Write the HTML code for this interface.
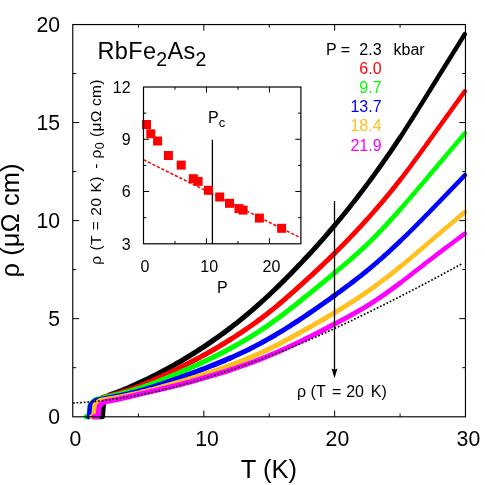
<!DOCTYPE html>
<html><head><meta charset="utf-8"><title>RbFe2As2 resistivity</title>
<style>
html,body{margin:0;padding:0;background:#fff;}
body{width:485px;height:485px;overflow:hidden;position:relative;font-family:"Liberation Sans",sans-serif;}
svg text{font-family:"Liberation Sans",sans-serif;}
</style></head><body>
<div id="fig" style="position:absolute;left:0;top:0;width:485px;height:485px;will-change:transform;background:#fff">
<svg width="485" height="485" viewBox="0 0 485 485" style="position:absolute;left:0;top:0">
<rect width="485" height="485" fill="#fff"/>
<g fill="none" stroke="#000000" stroke-linejoin="round" stroke-linecap="round">
<path d="M97.86,416.70 L102.37,416.70 L103.55,402.17 L103.89,401.61 L104.22,401.07 L104.56,400.54 L104.89,400.04 L105.23,399.55 L105.56,399.08 L105.90,398.63 L106.23,398.21 L106.57,397.80 L106.90,397.41 L107.24,397.04 L107.58,396.70 L107.91,396.38 L108.25,396.08 L108.58,395.80 L108.92,395.54 L109.25,395.31 L109.59,395.10 L109.92,394.91 L110.26,394.75 L110.59,394.62 L110.93,394.50 L111.27,394.39 L111.60,394.27 L111.94,394.16 L112.27,394.04 L112.61,393.93 L112.94,393.81 L113.28,393.69 L113.61,393.57 L113.95,393.45 L114.28,393.34 L114.62,393.21 L114.96,393.09 L115.29,392.97 L115.63,392.85 L115.96,392.73 L116.30,392.60 L116.63,392.48 L118.28,391.86 L119.92,391.23 L121.56,390.58 L123.20,389.92 L124.85,389.25 L126.49,388.56 L128.13,387.87 L129.78,387.16 L131.42,386.44 L133.06,385.71 L134.71,384.98 L136.35,384.23 L137.99,383.48 L139.63,382.72 L141.28,381.95 L142.92,381.17 L144.56,380.39 L146.21,379.60 L147.85,378.81 L149.49,378.00 L151.14,377.19 L152.78,376.37 L154.42,375.54 L156.06,374.71 L157.71,373.86 L159.35,373.01 L160.99,372.15 L162.64,371.29 L164.28,370.41 L165.92,369.53 L167.57,368.63 L169.21,367.73 L170.85,366.82 L172.49,365.91 L174.14,364.98 L175.78,364.04 L177.42,363.10 L179.07,362.15 L180.71,361.19 L182.35,360.22 L184.00,359.24 L185.64,358.25 L187.28,357.25 L188.92,356.25 L190.57,355.23 L192.21,354.21 L193.85,353.18 L195.50,352.14 L197.14,351.09 L198.78,350.03 L200.43,348.96 L202.07,347.89 L203.71,346.80 L205.35,345.71 L207.00,344.61 L208.64,343.50 L210.28,342.38 L211.93,341.24 L213.57,340.10 L215.21,338.95 L216.86,337.79 L218.50,336.62 L220.14,335.44 L221.78,334.25 L223.43,333.05 L225.07,331.84 L226.71,330.61 L228.36,329.38 L230.00,328.13" stroke-width="5.2"/>
<path d="M230.00,328.13 L232.14,326.49 L234.27,324.84 L236.41,323.16 L238.54,321.46 L240.68,319.74 L242.82,318.00 L244.95,316.24 L247.09,314.46 L249.22,312.66 L251.36,310.84 L253.50,308.99 L255.63,307.13 L257.77,305.25 L259.90,303.35 L262.04,301.43 L264.18,299.48 L266.31,297.52 L268.45,295.54 L270.59,293.54 L272.72,291.52 L274.86,289.47 L276.99,287.41 L279.13,285.34 L281.27,283.24 L283.40,281.13 L285.54,278.99 L287.67,276.84 L289.81,274.68 L291.95,272.50 L294.08,270.30 L296.22,268.08 L298.35,265.85 L300.49,263.61 L302.63,261.35 L304.76,259.07 L306.90,256.78 L309.03,254.48 L311.17,252.16 L313.31,249.82 L315.44,247.46 L317.58,245.09 L319.71,242.70 L321.85,240.29 L323.99,237.86 L326.12,235.42 L328.26,232.95 L330.39,230.46 L332.53,227.95 L334.67,225.42" stroke-width="5.0"/>
<path d="M334.67,225.42 L336.00,223.83 L337.34,222.23 L338.67,220.62 L340.01,219.01 L341.34,217.38 L342.68,215.75 L344.01,214.10 L345.35,212.45 L346.68,210.80 L348.02,209.13 L349.35,207.45 L350.69,205.77 L352.02,204.08 L353.36,202.38 L354.69,200.67 L356.03,198.95 L357.36,197.22 L358.70,195.49 L360.03,193.75 L361.37,192.00 L362.70,190.24 L364.04,188.47 L365.37,186.70 L366.71,184.92 L368.04,183.13 L369.38,181.33 L370.71,179.52 L372.05,177.71 L373.38,175.88 L374.72,174.05 L376.05,172.21 L377.39,170.36 L378.72,168.50 L380.06,166.63 L381.39,164.75 L382.73,162.86 L384.06,160.97 L385.40,159.06 L386.73,157.15 L388.07,155.22 L389.40,153.28 L390.74,151.34 L392.07,149.38 L393.41,147.42 L394.74,145.44 L396.08,143.45 L397.41,141.45 L398.75,139.45 L400.08,137.43" stroke-width="4.8"/>
<path d="M400.08,137.43 L401.41,135.42 L402.73,133.40 L404.05,131.37 L405.37,129.33 L406.69,127.28 L408.01,125.22 L409.34,123.15 L410.66,121.08 L411.98,119.00 L413.30,116.92 L414.62,114.82 L415.94,112.72 L417.27,110.62 L418.59,108.51 L419.91,106.40 L421.23,104.28 L422.55,102.17 L423.87,100.04 L425.20,97.92 L426.52,95.79 L427.84,93.66 L429.16,91.53 L430.48,89.40 L431.80,87.27 L433.13,85.14 L434.45,83.01 L435.77,80.89 L437.09,78.76 L438.41,76.63 L439.73,74.51 L441.06,72.38 L442.38,70.25 L443.70,68.13 L445.02,66.00 L446.34,63.88 L447.66,61.76 L448.99,59.63 L450.31,57.51 L451.63,55.39 L452.95,53.27 L454.27,51.15 L455.59,49.02 L456.92,46.90 L458.24,44.78 L459.56,42.66 L460.88,40.54 L462.20,38.42 L463.52,36.30 L464.85,34.18" stroke-width="4.5"/>
</g>
<g fill="none" stroke="#ff0000" stroke-linejoin="round" stroke-linecap="round">
<path d="M93.28,416.70 L95.63,416.70 L96.81,403.50 L97.15,403.01 L97.48,402.53 L97.82,402.06 L98.15,401.62 L98.49,401.19 L98.82,400.78 L99.16,400.39 L99.50,400.02 L99.83,399.67 L100.17,399.34 L100.50,399.03 L100.84,398.73 L101.17,398.46 L101.51,398.21 L101.84,397.98 L102.18,397.77 L102.51,397.58 L102.85,397.41 L103.19,397.27 L103.52,397.15 L103.86,397.05 L104.19,396.96 L104.53,396.88 L104.86,396.80 L105.20,396.72 L105.53,396.64 L105.87,396.56 L106.20,396.48 L106.54,396.40 L106.88,396.31 L107.21,396.23 L107.55,396.15 L107.88,396.06 L108.22,395.98 L108.55,395.89 L108.89,395.81 L109.22,395.72 L109.56,395.64 L109.90,395.55 L111.64,395.09 L113.38,394.63 L115.12,394.15 L116.86,393.65 L118.60,393.15 L120.34,392.63 L122.08,392.10 L123.82,391.56 L125.56,391.00 L127.30,390.43 L129.04,389.85 L130.78,389.26 L132.52,388.64 L134.26,388.02 L136.00,387.38 L137.75,386.73 L139.49,386.06 L141.23,385.38 L142.97,384.68 L144.71,383.97 L146.45,383.25 L148.19,382.52 L149.93,381.78 L151.67,381.02 L153.41,380.25 L155.15,379.48 L156.89,378.69 L158.63,377.90 L160.37,377.09 L162.11,376.28 L163.86,375.47 L165.60,374.64 L167.34,373.81 L169.08,372.98 L170.82,372.14 L172.56,371.30 L174.30,370.45 L176.04,369.59 L177.78,368.74 L179.52,367.87 L181.26,367.00 L183.00,366.13 L184.74,365.25 L186.48,364.36 L188.22,363.47 L189.97,362.57 L191.71,361.67 L193.45,360.76 L195.19,359.84 L196.93,358.91 L198.67,357.98 L200.41,357.03 L202.15,356.08 L203.89,355.13 L205.63,354.16 L207.37,353.18 L209.11,352.20 L210.85,351.21 L212.59,350.21 L214.33,349.20 L216.07,348.18 L217.82,347.15 L219.56,346.11 L221.30,345.07 L223.04,344.01 L224.78,342.95 L226.52,341.87 L228.26,340.79 L230.00,339.70" stroke-width="5.2"/>
<path d="M230.00,339.70 L232.14,338.35 L234.27,336.98 L236.41,335.60 L238.54,334.20 L240.68,332.79 L242.82,331.37 L244.95,329.92 L247.09,328.46 L249.22,326.98 L251.36,325.49 L253.50,323.97 L255.63,322.43 L257.77,320.88 L259.90,319.30 L262.04,317.70 L264.18,316.08 L266.31,314.43 L268.45,312.76 L270.59,311.06 L272.72,309.34 L274.86,307.60 L276.99,305.83 L279.13,304.04 L281.27,302.24 L283.40,300.41 L285.54,298.57 L287.67,296.71 L289.81,294.84 L291.95,292.95 L294.08,291.05 L296.22,289.14 L298.35,287.22 L300.49,285.30 L302.63,283.36 L304.76,281.42 L306.90,279.47 L309.03,277.51 L311.17,275.54 L313.31,273.57 L315.44,271.58 L317.58,269.59 L319.71,267.58 L321.85,265.57 L323.99,263.54 L326.12,261.50 L328.26,259.44 L330.39,257.37 L332.53,255.29 L334.67,253.19" stroke-width="5.0"/>
<path d="M334.67,253.19 L336.00,251.87 L337.34,250.55 L338.67,249.22 L340.01,247.88 L341.34,246.54 L342.68,245.19 L344.01,243.83 L345.35,242.47 L346.68,241.10 L348.02,239.72 L349.35,238.34 L350.69,236.95 L352.02,235.55 L353.36,234.15 L354.69,232.74 L356.03,231.32 L357.36,229.89 L358.70,228.46 L360.03,227.02 L361.37,225.57 L362.70,224.12 L364.04,222.66 L365.37,221.19 L366.71,219.71 L368.04,218.23 L369.38,216.73 L370.71,215.23 L372.05,213.73 L373.38,212.21 L374.72,210.68 L376.05,209.15 L377.39,207.61 L378.72,206.06 L380.06,204.50 L381.39,202.93 L382.73,201.35 L384.06,199.76 L385.40,198.16 L386.73,196.56 L388.07,194.94 L389.40,193.32 L390.74,191.68 L392.07,190.03 L393.41,188.38 L394.74,186.71 L396.08,185.03 L397.41,183.35 L398.75,181.65 L400.08,179.94" stroke-width="4.8"/>
<path d="M400.08,179.94 L401.41,178.24 L402.73,176.52 L404.05,174.80 L405.37,173.07 L406.69,171.32 L408.01,169.57 L409.34,167.81 L410.66,166.05 L411.98,164.27 L413.30,162.49 L414.62,160.71 L415.94,158.91 L417.27,157.12 L418.59,155.31 L419.91,153.50 L421.23,151.69 L422.55,149.87 L423.87,148.05 L425.20,146.23 L426.52,144.41 L427.84,142.58 L429.16,140.75 L430.48,138.92 L431.80,137.09 L433.13,135.26 L434.45,133.42 L435.77,131.59 L437.09,129.76 L438.41,127.93 L439.73,126.10 L441.06,124.27 L442.38,122.43 L443.70,120.60 L445.02,118.77 L446.34,116.94 L447.66,115.11 L448.99,113.28 L450.31,111.44 L451.63,109.61 L452.95,107.78 L454.27,105.95 L455.59,104.12 L456.92,102.29 L458.24,100.45 L459.56,98.62 L460.88,96.79 L462.20,94.96 L463.52,93.13 L464.85,91.30" stroke-width="4.5"/>
</g>
<g fill="none" stroke="#00ff00" stroke-linejoin="round" stroke-linecap="round">
<path d="M86.48,416.70 L88.96,416.70 L90.14,405.00 L90.47,404.55 L90.81,404.12 L91.15,403.71 L91.48,403.31 L91.82,402.92 L92.15,402.56 L92.49,402.21 L92.82,401.87 L93.16,401.56 L93.49,401.26 L93.83,400.98 L94.16,400.72 L94.50,400.47 L94.84,400.25 L95.17,400.04 L95.51,399.85 L95.84,399.68 L96.18,399.53 L96.51,399.40 L96.85,399.29 L97.18,399.20 L97.52,399.12 L97.85,399.05 L98.19,398.98 L98.53,398.91 L98.86,398.83 L99.20,398.76 L99.53,398.69 L99.87,398.62 L100.20,398.54 L100.54,398.47 L100.87,398.40 L101.21,398.32 L101.55,398.25 L101.88,398.18 L102.22,398.10 L102.55,398.03 L102.89,397.95 L103.22,397.88 L105.06,397.47 L106.90,397.06 L108.73,396.64 L110.57,396.21 L112.41,395.78 L114.25,395.34 L116.08,394.89 L117.92,394.43 L119.76,393.97 L121.60,393.49 L123.43,393.01 L125.27,392.51 L127.11,392.00 L128.95,391.49 L130.78,390.95 L132.62,390.41 L134.46,389.86 L136.29,389.29 L138.13,388.70 L139.97,388.10 L141.81,387.49 L143.64,386.86 L145.48,386.22 L147.32,385.57 L149.16,384.91 L150.99,384.23 L152.83,383.54 L154.67,382.84 L156.51,382.14 L158.34,381.42 L160.18,380.69 L162.02,379.96 L163.86,379.22 L165.69,378.47 L167.53,377.72 L169.37,376.96 L171.20,376.19 L173.04,375.42 L174.88,374.65 L176.72,373.87 L178.55,373.08 L180.39,372.29 L182.23,371.50 L184.07,370.70 L185.90,369.89 L187.74,369.08 L189.58,368.26 L191.42,367.44 L193.25,366.61 L195.09,365.78 L196.93,364.94 L198.76,364.09 L200.60,363.24 L202.44,362.38 L204.28,361.51 L206.11,360.64 L207.95,359.76 L209.79,358.87 L211.63,357.98 L213.46,357.08 L215.30,356.17 L217.14,355.25 L218.98,354.33 L220.81,353.39 L222.65,352.45 L224.49,351.49 L226.33,350.53 L228.16,349.56 L230.00,348.57" stroke-width="5.2"/>
<path d="M230.00,348.57 L232.14,347.41 L234.27,346.24 L236.41,345.06 L238.54,343.85 L240.68,342.64 L242.82,341.40 L244.95,340.15 L247.09,338.88 L249.22,337.59 L251.36,336.29 L253.50,334.96 L255.63,333.61 L257.77,332.25 L259.90,330.86 L262.04,329.45 L264.18,328.02 L266.31,326.57 L268.45,325.10 L270.59,323.60 L272.72,322.08 L274.86,320.53 L276.99,318.97 L279.13,317.39 L281.27,315.79 L283.40,314.17 L285.54,312.53 L287.67,310.89 L289.81,309.22 L291.95,307.55 L294.08,305.86 L296.22,304.17 L298.35,302.47 L300.49,300.76 L302.63,299.04 L304.76,297.32 L306.90,295.59 L309.03,293.85 L311.17,292.12 L313.31,290.38 L315.44,288.63 L317.58,286.88 L319.71,285.13 L321.85,283.37 L323.99,281.61 L326.12,279.85 L328.26,278.09 L330.39,276.32 L332.53,274.56 L334.67,272.79" stroke-width="5.0"/>
<path d="M334.67,272.79 L336.00,271.68 L337.34,270.58 L338.67,269.47 L340.01,268.36 L341.34,267.24 L342.68,266.13 L344.01,265.01 L345.35,263.88 L346.68,262.75 L348.02,261.62 L349.35,260.48 L350.69,259.33 L352.02,258.18 L353.36,257.01 L354.69,255.84 L356.03,254.67 L357.36,253.48 L358.70,252.28 L360.03,251.07 L361.37,249.85 L362.70,248.62 L364.04,247.38 L365.37,246.13 L366.71,244.86 L368.04,243.58 L369.38,242.28 L370.71,240.97 L372.05,239.65 L373.38,238.31 L374.72,236.97 L376.05,235.61 L377.39,234.24 L378.72,232.86 L380.06,231.46 L381.39,230.06 L382.73,228.65 L384.06,227.22 L385.40,225.79 L386.73,224.35 L388.07,222.90 L389.40,221.44 L390.74,219.97 L392.07,218.50 L393.41,217.01 L394.74,215.52 L396.08,214.03 L397.41,212.52 L398.75,211.01 L400.08,209.50" stroke-width="4.8"/>
<path d="M400.08,209.50 L401.41,208.00 L402.73,206.49 L404.05,204.97 L405.37,203.45 L406.69,201.93 L408.01,200.40 L409.34,198.87 L410.66,197.34 L411.98,195.80 L413.30,194.26 L414.62,192.71 L415.94,191.16 L417.27,189.61 L418.59,188.06 L419.91,186.51 L421.23,184.95 L422.55,183.39 L423.87,181.83 L425.20,180.27 L426.52,178.71 L427.84,177.14 L429.16,175.58 L430.48,174.01 L431.80,172.45 L433.13,170.88 L434.45,169.32 L435.77,167.75 L437.09,166.19 L438.41,164.62 L439.73,163.06 L441.06,161.49 L442.38,159.93 L443.70,158.36 L445.02,156.80 L446.34,155.23 L447.66,153.67 L448.99,152.10 L450.31,150.54 L451.63,148.97 L452.95,147.41 L454.27,145.84 L455.59,144.28 L456.92,142.71 L458.24,141.15 L459.56,139.58 L460.88,138.02 L462.20,136.45 L463.52,134.89 L464.85,133.33" stroke-width="4.5"/>
</g>
<g fill="none" stroke="#0000ff" stroke-linejoin="round" stroke-linecap="round">
<path d="M88.96,416.70 L89.35,416.70 L90.53,405.43 L90.87,405.01 L91.20,404.60 L91.54,404.21 L91.87,403.83 L92.21,403.47 L92.54,403.12 L92.88,402.79 L93.22,402.48 L93.55,402.18 L93.89,401.90 L94.22,401.64 L94.56,401.40 L94.89,401.17 L95.23,400.96 L95.56,400.77 L95.90,400.59 L96.23,400.44 L96.57,400.30 L96.91,400.19 L97.24,400.09 L97.58,400.01 L97.91,399.94 L98.25,399.88 L98.58,399.82 L98.92,399.76 L99.25,399.70 L99.59,399.64 L99.92,399.58 L100.26,399.52 L100.60,399.45 L100.93,399.39 L101.27,399.33 L101.60,399.27 L101.94,399.21 L102.27,399.14 L102.61,399.08 L102.94,399.02 L103.28,398.96 L103.61,398.89 L105.45,398.55 L107.28,398.20 L109.11,397.85 L110.94,397.50 L112.77,397.14 L114.60,396.77 L116.44,396.40 L118.27,396.02 L120.10,395.63 L121.93,395.24 L123.76,394.83 L125.59,394.42 L127.43,394.00 L129.26,393.57 L131.09,393.13 L132.92,392.67 L134.75,392.21 L136.59,391.73 L138.42,391.24 L140.25,390.73 L142.08,390.22 L143.91,389.69 L145.74,389.15 L147.57,388.59 L149.41,388.03 L151.24,387.46 L153.07,386.88 L154.90,386.29 L156.73,385.69 L158.56,385.08 L160.40,384.47 L162.23,383.85 L164.06,383.23 L165.89,382.60 L167.72,381.96 L169.56,381.32 L171.39,380.68 L173.22,380.04 L175.05,379.39 L176.88,378.74 L178.71,378.08 L180.55,377.43 L182.38,376.77 L184.21,376.10 L186.04,375.44 L187.87,374.77 L189.70,374.10 L191.54,373.42 L193.37,372.74 L195.20,372.05 L197.03,371.37 L198.86,370.67 L200.69,369.98 L202.53,369.28 L204.36,368.58 L206.19,367.87 L208.02,367.16 L209.85,366.44 L211.68,365.71 L213.51,364.99 L215.35,364.25 L217.18,363.51 L219.01,362.76 L220.84,362.01 L222.67,361.25 L224.50,360.48 L226.34,359.70 L228.17,358.91 L230.00,358.12" stroke-width="5.2"/>
<path d="M230.00,358.12 L232.14,357.18 L234.27,356.22 L236.41,355.26 L238.54,354.27 L240.68,353.28 L242.82,352.27 L244.95,351.24 L247.09,350.20 L249.22,349.15 L251.36,348.07 L253.50,346.99 L255.63,345.88 L257.77,344.77 L259.90,343.63 L262.04,342.48 L264.18,341.31 L266.31,340.13 L268.45,338.93 L270.59,337.71 L272.72,336.48 L274.86,335.23 L276.99,333.96 L279.13,332.68 L281.27,331.39 L283.40,330.08 L285.54,328.75 L287.67,327.41 L289.81,326.06 L291.95,324.70 L294.08,323.32 L296.22,321.94 L298.35,320.54 L300.49,319.13 L302.63,317.71 L304.76,316.28 L306.90,314.84 L309.03,313.39 L311.17,311.93 L313.31,310.46 L315.44,308.99 L317.58,307.50 L319.71,306.01 L321.85,304.51 L323.99,303.00 L326.12,301.48 L328.26,299.96 L330.39,298.43 L332.53,296.90 L334.67,295.36" stroke-width="5.0"/>
<path d="M334.67,295.36 L336.00,294.39 L337.34,293.42 L338.67,292.45 L340.01,291.47 L341.34,290.49 L342.68,289.51 L344.01,288.53 L345.35,287.54 L346.68,286.54 L348.02,285.55 L349.35,284.54 L350.69,283.53 L352.02,282.52 L353.36,281.50 L354.69,280.48 L356.03,279.45 L357.36,278.41 L358.70,277.37 L360.03,276.32 L361.37,275.26 L362.70,274.20 L364.04,273.12 L365.37,272.04 L366.71,270.96 L368.04,269.86 L369.38,268.76 L370.71,267.65 L372.05,266.53 L373.38,265.40 L374.72,264.26 L376.05,263.12 L377.39,261.97 L378.72,260.81 L380.06,259.64 L381.39,258.47 L382.73,257.28 L384.06,256.09 L385.40,254.90 L386.73,253.69 L388.07,252.48 L389.40,251.26 L390.74,250.04 L392.07,248.80 L393.41,247.56 L394.74,246.31 L396.08,245.06 L397.41,243.80 L398.75,242.53 L400.08,241.26" stroke-width="4.8"/>
<path d="M400.08,241.26 L401.41,239.99 L402.73,238.71 L404.05,237.43 L405.37,236.15 L406.69,234.86 L408.01,233.56 L409.34,232.26 L410.66,230.95 L411.98,229.64 L413.30,228.32 L414.62,227.00 L415.94,225.67 L417.27,224.34 L418.59,223.01 L419.91,221.67 L421.23,220.33 L422.55,218.99 L423.87,217.64 L425.20,216.29 L426.52,214.94 L427.84,213.59 L429.16,212.23 L430.48,210.87 L431.80,209.51 L433.13,208.15 L434.45,206.79 L435.77,205.43 L437.09,204.06 L438.41,202.69 L439.73,201.33 L441.06,199.96 L442.38,198.59 L443.70,197.22 L445.02,195.85 L446.34,194.47 L447.66,193.10 L448.99,191.73 L450.31,190.35 L451.63,188.98 L452.95,187.60 L454.27,186.22 L455.59,184.85 L456.92,183.47 L458.24,182.09 L459.56,180.71 L460.88,179.33 L462.20,177.96 L463.52,176.58 L464.85,175.20" stroke-width="4.5"/>
</g>
<g fill="none" stroke="#ffc020" stroke-linejoin="round" stroke-linecap="round">
<path d="M91.84,416.70 L93.74,416.70 L94.91,405.26 L95.25,404.84 L95.59,404.44 L95.92,404.05 L96.26,403.69 L96.59,403.34 L96.93,403.00 L97.26,402.68 L97.60,402.38 L97.93,402.10 L98.27,401.83 L98.60,401.59 L98.94,401.36 L99.28,401.14 L99.61,400.95 L99.95,400.77 L100.28,400.61 L100.62,400.47 L100.95,400.35 L101.29,400.24 L101.62,400.16 L101.96,400.09 L102.29,400.04 L102.63,400.00 L102.97,399.95 L103.30,399.90 L103.64,399.85 L103.97,399.80 L104.31,399.75 L104.64,399.70 L104.98,399.65 L105.31,399.60 L105.65,399.55 L105.99,399.50 L106.32,399.45 L106.66,399.40 L106.99,399.34 L107.33,399.29 L107.66,399.24 L108.00,399.18 L109.77,398.90 L111.53,398.60 L113.30,398.29 L115.07,397.98 L116.84,397.66 L118.61,397.32 L120.37,396.98 L122.14,396.64 L123.91,396.28 L125.68,395.91 L127.45,395.54 L129.22,395.16 L130.98,394.78 L132.75,394.39 L134.52,393.99 L136.29,393.58 L138.06,393.17 L139.82,392.75 L141.59,392.33 L143.36,391.90 L145.13,391.47 L146.90,391.03 L148.67,390.58 L150.43,390.13 L152.20,389.67 L153.97,389.21 L155.74,388.75 L157.51,388.28 L159.27,387.80 L161.04,387.32 L162.81,386.84 L164.58,386.35 L166.35,385.86 L168.11,385.36 L169.88,384.86 L171.65,384.36 L173.42,383.85 L175.19,383.34 L176.96,382.82 L178.72,382.30 L180.49,381.78 L182.26,381.26 L184.03,380.73 L185.80,380.19 L187.56,379.65 L189.33,379.11 L191.10,378.57 L192.87,378.02 L194.64,377.46 L196.41,376.90 L198.17,376.34 L199.94,375.78 L201.71,375.21 L203.48,374.63 L205.25,374.05 L207.01,373.47 L208.78,372.89 L210.55,372.29 L212.32,371.70 L214.09,371.10 L215.85,370.49 L217.62,369.88 L219.39,369.26 L221.16,368.64 L222.93,368.01 L224.70,367.38 L226.46,366.74 L228.23,366.10 L230.00,365.44" stroke-width="5.2"/>
<path d="M230.00,365.44 L232.14,364.65 L234.27,363.84 L236.41,363.02 L238.54,362.20 L240.68,361.36 L242.82,360.51 L244.95,359.65 L247.09,358.78 L249.22,357.89 L251.36,356.99 L253.50,356.08 L255.63,355.15 L257.77,354.21 L259.90,353.26 L262.04,352.28 L264.18,351.30 L266.31,350.29 L268.45,349.27 L270.59,348.23 L272.72,347.18 L274.86,346.10 L276.99,345.02 L279.13,343.92 L281.27,342.80 L283.40,341.68 L285.54,340.54 L287.67,339.39 L289.81,338.23 L291.95,337.07 L294.08,335.89 L296.22,334.72 L298.35,333.53 L300.49,332.34 L302.63,331.15 L304.76,329.95 L306.90,328.75 L309.03,327.55 L311.17,326.34 L313.31,325.12 L315.44,323.91 L317.58,322.68 L319.71,321.45 L321.85,320.22 L323.99,318.98 L326.12,317.73 L328.26,316.47 L330.39,315.21 L332.53,313.94 L334.67,312.66" stroke-width="5.0"/>
<path d="M334.67,312.66 L336.00,311.85 L337.34,311.04 L338.67,310.23 L340.01,309.41 L341.34,308.59 L342.68,307.77 L344.01,306.94 L345.35,306.11 L346.68,305.27 L348.02,304.43 L349.35,303.58 L350.69,302.73 L352.02,301.87 L353.36,301.01 L354.69,300.14 L356.03,299.27 L357.36,298.39 L358.70,297.50 L360.03,296.61 L361.37,295.71 L362.70,294.81 L364.04,293.90 L365.37,292.98 L366.71,292.06 L368.04,291.13 L369.38,290.19 L370.71,289.24 L372.05,288.29 L373.38,287.33 L374.72,286.37 L376.05,285.40 L377.39,284.42 L378.72,283.43 L380.06,282.44 L381.39,281.44 L382.73,280.44 L384.06,279.43 L385.40,278.41 L386.73,277.38 L388.07,276.35 L389.40,275.32 L390.74,274.27 L392.07,273.23 L393.41,272.17 L394.74,271.11 L396.08,270.04 L397.41,268.97 L398.75,267.89 L400.08,266.81" stroke-width="4.8"/>
<path d="M400.08,266.81 L401.41,265.73 L402.73,264.65 L404.05,263.56 L405.37,262.47 L406.69,261.37 L408.01,260.27 L409.34,259.16 L410.66,258.05 L411.98,256.94 L413.30,255.82 L414.62,254.70 L415.94,253.58 L417.27,252.46 L418.59,251.33 L419.91,250.20 L421.23,249.07 L422.55,247.94 L423.87,246.81 L425.20,245.68 L426.52,244.54 L427.84,243.41 L429.16,242.28 L430.48,241.14 L431.80,240.01 L433.13,238.88 L434.45,237.75 L435.77,236.62 L437.09,235.49 L438.41,234.37 L439.73,233.24 L441.06,232.12 L442.38,230.99 L443.70,229.87 L445.02,228.74 L446.34,227.62 L447.66,226.50 L448.99,225.38 L450.31,224.26 L451.63,223.14 L452.95,222.02 L454.27,220.90 L455.59,219.78 L456.92,218.66 L458.24,217.54 L459.56,216.43 L460.88,215.31 L462.20,214.19 L463.52,213.07 L464.85,211.96" stroke-width="4.5"/>
</g>
<g fill="none" stroke="#ff00ff" stroke-linejoin="round" stroke-linecap="round">
<path d="M94.19,416.70 L98.05,416.70 L99.23,406.19 L99.57,405.81 L99.90,405.44 L100.24,405.09 L100.57,404.75 L100.91,404.43 L101.24,404.13 L101.58,403.84 L101.92,403.56 L102.25,403.30 L102.59,403.06 L102.92,402.83 L103.26,402.62 L103.59,402.42 L103.93,402.24 L104.26,402.07 L104.60,401.92 L104.94,401.79 L105.27,401.67 L105.61,401.57 L105.94,401.49 L106.28,401.42 L106.61,401.37 L106.95,401.32 L107.28,401.26 L107.62,401.21 L107.95,401.16 L108.29,401.10 L108.63,401.05 L108.96,400.99 L109.30,400.94 L109.63,400.88 L109.97,400.82 L110.30,400.76 L110.64,400.70 L110.97,400.64 L111.31,400.58 L111.64,400.52 L111.98,400.46 L112.32,400.40 L114.02,400.07 L115.73,399.72 L117.43,399.37 L119.14,399.00 L120.84,398.62 L122.55,398.23 L124.25,397.83 L125.96,397.43 L127.67,397.02 L129.37,396.61 L131.08,396.19 L132.78,395.78 L134.49,395.36 L136.19,394.94 L137.90,394.53 L139.60,394.12 L141.31,393.72 L143.02,393.32 L144.72,392.92 L146.43,392.53 L148.13,392.13 L149.84,391.74 L151.54,391.35 L153.25,390.97 L154.95,390.58 L156.66,390.19 L158.37,389.80 L160.07,389.40 L161.78,389.01 L163.48,388.61 L165.19,388.22 L166.89,387.81 L168.60,387.41 L170.30,386.99 L172.01,386.58 L173.72,386.16 L175.42,385.73 L177.13,385.30 L178.83,384.86 L180.54,384.42 L182.24,383.97 L183.95,383.52 L185.66,383.07 L187.36,382.61 L189.07,382.15 L190.77,381.68 L192.48,381.21 L194.18,380.74 L195.89,380.26 L197.59,379.78 L199.30,379.30 L201.01,378.82 L202.71,378.33 L204.42,377.84 L206.12,377.34 L207.83,376.85 L209.53,376.35 L211.24,375.85 L212.94,375.34 L214.65,374.83 L216.36,374.32 L218.06,373.80 L219.77,373.28 L221.47,372.75 L223.18,372.22 L224.88,371.69 L226.59,371.15 L228.29,370.60 L230.00,370.05" stroke-width="5.2"/>
<path d="M230.00,370.05 L232.14,369.35 L234.27,368.64 L236.41,367.92 L238.54,367.19 L240.68,366.45 L242.82,365.71 L244.95,364.95 L247.09,364.18 L249.22,363.39 L251.36,362.60 L253.50,361.80 L255.63,360.99 L257.77,360.17 L259.90,359.33 L262.04,358.49 L264.18,357.63 L266.31,356.77 L268.45,355.89 L270.59,355.00 L272.72,354.10 L274.86,353.19 L276.99,352.27 L279.13,351.34 L281.27,350.40 L283.40,349.44 L285.54,348.48 L287.67,347.51 L289.81,346.52 L291.95,345.53 L294.08,344.52 L296.22,343.51 L298.35,342.49 L300.49,341.45 L302.63,340.41 L304.76,339.36 L306.90,338.29 L309.03,337.22 L311.17,336.15 L313.31,335.06 L315.44,333.97 L317.58,332.87 L319.71,331.77 L321.85,330.66 L323.99,329.55 L326.12,328.44 L328.26,327.32 L330.39,326.20 L332.53,325.07 L334.67,323.95" stroke-width="5.0"/>
<path d="M334.67,323.95 L336.00,323.25 L337.34,322.54 L338.67,321.84 L340.01,321.13 L341.34,320.43 L342.68,319.72 L344.01,319.01 L345.35,318.29 L346.68,317.57 L348.02,316.85 L349.35,316.12 L350.69,315.39 L352.02,314.66 L353.36,313.91 L354.69,313.17 L356.03,312.41 L357.36,311.65 L358.70,310.89 L360.03,310.11 L361.37,309.33 L362.70,308.54 L364.04,307.74 L365.37,306.93 L366.71,306.12 L368.04,305.29 L369.38,304.45 L370.71,303.61 L372.05,302.75 L373.38,301.89 L374.72,301.02 L376.05,300.13 L377.39,299.24 L378.72,298.34 L380.06,297.44 L381.39,296.52 L382.73,295.60 L384.06,294.67 L385.40,293.73 L386.73,292.78 L388.07,291.83 L389.40,290.88 L390.74,289.91 L392.07,288.94 L393.41,287.96 L394.74,286.98 L396.08,285.99 L397.41,285.00 L398.75,284.00 L400.08,282.99" stroke-width="4.8"/>
<path d="M400.08,282.99 L401.41,282.00 L402.73,280.99 L404.05,279.99 L405.37,278.98 L406.69,277.96 L408.01,276.94 L409.34,275.92 L410.66,274.90 L411.98,273.88 L413.30,272.85 L414.62,271.82 L415.94,270.79 L417.27,269.76 L418.59,268.73 L419.91,267.70 L421.23,266.67 L422.55,265.64 L423.87,264.61 L425.20,263.58 L426.52,262.55 L427.84,261.53 L429.16,260.50 L430.48,259.48 L431.80,258.46 L433.13,257.44 L434.45,256.43 L435.77,255.42 L437.09,254.41 L438.41,253.40 L439.73,252.40 L441.06,251.40 L442.38,250.40 L443.70,249.40 L445.02,248.41 L446.34,247.42 L447.66,246.43 L448.99,245.44 L450.31,244.45 L451.63,243.46 L452.95,242.48 L454.27,241.50 L455.59,240.51 L456.92,239.53 L458.24,238.55 L459.56,237.57 L460.88,236.59 L462.20,235.61 L463.52,234.63 L464.85,233.65" stroke-width="4.5"/>
</g>
<path d="M73.00,402.98 L74.96,402.89 L76.92,402.80 L78.88,402.69 L80.84,402.58 L82.80,402.45 L84.76,402.32 L86.71,402.17 L88.67,402.02 L90.63,401.85 L92.59,401.68 L94.55,401.49 L96.51,401.30 L98.47,401.10 L100.43,400.89 L102.39,400.66 L104.35,400.43 L106.31,400.19 L108.27,399.95 L110.23,399.69 L112.18,399.42 L114.14,399.15 L116.10,398.86 L118.06,398.57 L120.02,398.27 L121.98,397.96 L123.94,397.64 L125.90,397.32 L127.86,396.98 L129.82,396.64 L131.78,396.29 L133.74,395.93 L135.69,395.57 L137.65,395.19 L139.61,394.81 L141.57,394.42 L143.53,394.03 L145.49,393.62 L147.45,393.21 L149.41,392.79 L151.37,392.37 L153.33,391.93 L155.29,391.49 L157.25,391.05 L159.21,390.59 L161.16,390.13 L163.12,389.66 L165.08,389.19 L167.04,388.71 L169.00,388.22 L170.96,387.73 L172.92,387.23 L174.88,386.72 L176.84,386.21 L178.80,385.69 L180.76,385.16 L182.72,384.63 L184.68,384.09 L186.63,383.55 L188.59,383.00 L190.55,382.45 L192.51,381.89 L194.47,381.32 L196.43,380.75 L198.39,380.18 L200.35,379.59 L202.31,379.01 L204.27,378.42 L206.23,377.82 L208.19,377.22 L210.14,376.61 L212.10,376.00 L214.06,375.38 L216.02,374.76 L217.98,374.13 L219.94,373.50 L221.90,372.86 L223.86,372.22 L225.82,371.58 L227.78,370.92 L229.74,370.27 L231.70,369.61 L233.66,368.95 L235.61,368.28 L237.57,367.60 L239.53,366.93 L241.49,366.25 L243.45,365.56 L245.41,364.87 L247.37,364.17 L249.33,363.47 L251.29,362.77 L253.25,362.06 L255.21,361.35 L257.17,360.63 L259.13,359.91 L261.08,359.18 L263.04,358.45 L265.00,357.71 L266.96,356.97 L268.92,356.23 L270.88,355.48 L272.84,354.72 L274.80,353.96 L276.76,353.20 L278.72,352.43 L280.68,351.66 L282.64,350.88 L284.59,350.10 L286.55,349.31 L288.51,348.52 L290.47,347.72 L292.43,346.92 L294.39,346.11 L296.35,345.30 L298.31,344.48 L300.27,343.66 L302.23,342.84 L304.19,342.00 L306.15,341.17 L308.11,340.33 L310.06,339.48 L312.02,338.63 L313.98,337.78 L315.94,336.92 L317.90,336.06 L319.86,335.19 L321.82,334.32 L323.78,333.44 L325.74,332.56 L327.70,331.67 L329.66,330.78 L331.62,329.89 L333.58,328.99 L335.53,328.08 L337.49,327.18 L339.45,326.27 L341.41,325.35 L343.37,324.43 L345.33,323.51 L347.29,322.59 L349.25,321.66 L351.21,320.72 L353.17,319.79 L355.13,318.85 L357.09,317.91 L359.05,316.96 L361.00,316.01 L362.96,315.06 L364.92,314.10 L366.88,313.15 L368.84,312.18 L370.80,311.22 L372.76,310.25 L374.72,309.29 L376.68,308.31 L378.64,307.34 L380.60,306.36 L382.56,305.38 L384.51,304.40 L386.47,303.42 L388.43,302.43 L390.39,301.44 L392.35,300.45 L394.31,299.46 L396.27,298.46 L398.23,297.46 L400.19,296.46 L402.15,295.46 L404.11,294.46 L406.07,293.45 L408.03,292.44 L409.98,291.43 L411.94,290.41 L413.90,289.40 L415.86,288.38 L417.82,287.36 L419.78,286.34 L421.74,285.31 L423.70,284.28 L425.66,283.26 L427.62,282.22 L429.58,281.19 L431.54,280.15 L433.50,279.11 L435.45,278.07 L437.41,277.03 L439.37,275.98 L441.33,274.93 L443.29,273.88 L445.25,272.83 L447.21,271.77 L449.17,270.71 L451.13,269.65 L453.09,268.59 L455.05,267.52 L457.01,266.45 L458.96,265.38 L460.92,264.30 L462.88,263.23" fill="none" stroke="#000" stroke-width="1.65" stroke-dasharray="1.7 1.9"/>
<rect x="72.77" y="24.55" width="392.68" height="392.25" fill="none" stroke="#000" stroke-width="1.15"/>
<path d="M138.42,416.7 v-3.2 M138.42,24.5 v3.2 M203.83,416.7 v-6.2 M203.83,24.5 v6.2 M269.25,416.7 v-3.2 M269.25,24.5 v3.2 M334.67,416.7 v-6.2 M334.67,24.5 v6.2 M400.08,416.7 v-3.2 M400.08,24.5 v3.2 M73.0,367.68 h3.2 M465.5,367.68 h-3.2 M73.0,318.65 h6.2 M465.5,318.65 h-6.2 M73.0,269.62 h3.2 M465.5,269.62 h-3.2 M73.0,220.60 h6.2 M465.5,220.60 h-6.2 M73.0,171.57 h3.2 M465.5,171.57 h-3.2 M73.0,122.55 h6.2 M465.5,122.55 h-6.2 M73.0,73.52 h3.2 M465.5,73.52 h-3.2" stroke="#000" stroke-width="1" fill="none"/>
<path d="M334.5,201 V372" stroke="#000" stroke-width="1.3" fill="none"/>
<path d="M334.5,378.3 L331.6,368.4 L334.5,369.8 L337.4,368.4 Z" fill="#000"/>
<rect x="143.5" y="87.0" width="157.39999999999998" height="156.8" fill="#fff" stroke="none"/>
<path d="M143.5,159.7 L300.9,238.0" stroke="#ff0000" stroke-width="1.5" stroke-dasharray="3.2 1.8" fill="none"/>
<path d="M212.4,139.7 V243.8" stroke="#000" stroke-width="1.3" fill="none"/>
<rect x="142.0" y="120.0" width="9" height="9" fill="#ff0000"/>
<rect x="146.3" y="129.3" width="9" height="9" fill="#ff0000"/>
<rect x="153.1" y="136.5" width="9" height="9" fill="#ff0000"/>
<rect x="163.9" y="151.0" width="9" height="9" fill="#ff0000"/>
<rect x="176.7" y="160.6" width="9" height="9" fill="#ff0000"/>
<rect x="188.8" y="174.2" width="9" height="9" fill="#ff0000"/>
<rect x="193.6" y="176.9" width="9" height="9" fill="#ff0000"/>
<rect x="203.9" y="185.8" width="9" height="9" fill="#ff0000"/>
<rect x="215.2" y="192.5" width="9" height="9" fill="#ff0000"/>
<rect x="225.0" y="198.8" width="9" height="9" fill="#ff0000"/>
<rect x="234.5" y="204.1" width="9" height="9" fill="#ff0000"/>
<rect x="238.6" y="205.6" width="9" height="9" fill="#ff0000"/>
<rect x="254.9" y="213.6" width="9" height="9" fill="#ff0000"/>
<rect x="277.1" y="223.8" width="9" height="9" fill="#ff0000"/>
<rect x="143.5" y="87.0" width="157.39999999999998" height="156.8" fill="none" stroke="#000" stroke-width="1.2"/>
<path d="M174.98,243.8 v-2.8 M174.98,87.0 v2.8 M206.46,243.8 v-5.6 M206.46,87.0 v5.6 M237.94,243.8 v-2.8 M237.94,87.0 v2.8 M269.42,243.8 v-5.6 M269.42,87.0 v5.6 M143.5,217.67 h2.8 M300.9,217.67 h-2.8 M143.5,191.53 h5.6 M300.9,191.53 h-5.6 M143.5,165.40 h2.8 M300.9,165.40 h-2.8 M143.5,139.27 h5.6 M300.9,139.27 h-5.6 M143.5,113.13 h2.8 M300.9,113.13 h-2.8" stroke="#000" stroke-width="1" fill="none"/>
<text x="60.1" y="423.8" font-size="21.2" text-anchor="end" fill="#000" >0</text>
<text x="60.1" y="325.75" font-size="21.2" text-anchor="end" fill="#000" >5</text>
<text x="60.1" y="227.7" font-size="21.2" text-anchor="end" fill="#000" >10</text>
<text x="60.1" y="129.65" font-size="21.2" text-anchor="end" fill="#000" >15</text>
<text x="60.1" y="31.6" font-size="21.2" text-anchor="end" fill="#000" >20</text>
<text x="75.4" y="445.6" font-size="21.2" text-anchor="middle" fill="#000" >0</text>
<text x="207.0" y="445.6" font-size="21.2" text-anchor="middle" fill="#000" >10</text>
<text x="337.4" y="445.6" font-size="21.2" text-anchor="middle" fill="#000" >20</text>
<text x="468.4" y="445.6" font-size="21.2" text-anchor="middle" fill="#000" >30</text>
<text x="268.8" y="478.4" font-size="25.5" text-anchor="middle" fill="#000" >T (K)</text>
<text transform="translate(19.4,277.4) rotate(-90)" font-size="25.5" letter-spacing="0.06">ρ (μΩ cm)</text>
<text x="97.6" y="58.5" font-size="23.5" letter-spacing="0.3">RbFe<tspan font-size="19.5" dy="7.5">2</tspan><tspan dy="-7.5">As</tspan><tspan font-size="19.5" dy="7.5">2</tspan></text>
<text x="326.0" y="54.7" font-size="16" text-anchor="start" fill="#000" >P =</text>
<text x="393.5" y="54.7" font-size="16" text-anchor="start" fill="#000" >kbar</text>
<text x="381.6" y="54.7" font-size="16" text-anchor="end" fill="#000" >2.3</text>
<text x="381.6" y="73.88" font-size="16" text-anchor="end" fill="#ff0000" >6.0</text>
<text x="381.6" y="93.06" font-size="16" text-anchor="end" fill="#00ff00" >9.7</text>
<text x="381.6" y="112.24000000000001" font-size="16" text-anchor="end" fill="#0000ff" >13.7</text>
<text x="381.6" y="131.42000000000002" font-size="16" text-anchor="end" fill="#ffc020" >18.4</text>
<text x="381.6" y="150.60000000000002" font-size="16" text-anchor="end" fill="#ff00ff" >21.9</text>
<text x="297.0" y="397.2" font-size="16">ρ (T <tspan dx="2.3">=</tspan><tspan dx="0.3"> 20</tspan><tspan dx="2.3"> K)</tspan></text>
<text x="130.6" y="249.70000000000002" font-size="16" text-anchor="end" fill="#000" >3</text>
<text x="130.6" y="197.43333333333334" font-size="16" text-anchor="end" fill="#000" >6</text>
<text x="130.6" y="145.16666666666666" font-size="16" text-anchor="end" fill="#000" >9</text>
<text x="130.6" y="92.9" font-size="16" text-anchor="end" fill="#000" >12</text>
<text x="145.0" y="271.8" font-size="16" text-anchor="middle" fill="#000" >0</text>
<text x="209.2" y="271.8" font-size="16" text-anchor="middle" fill="#000" >10</text>
<text x="271.4" y="271.8" font-size="16" text-anchor="middle" fill="#000" >20</text>
<text x="222.3" y="292.9" font-size="16" text-anchor="middle" fill="#000" >P</text>
<text x="208.0" y="122.6" font-size="16">P<tspan font-size="13" dy="4.5">c</tspan></text>
<text transform="translate(100.6,264.7) rotate(-90)" font-size="15.5" letter-spacing="0.55">ρ (T = 20 K)</text>
<text transform="translate(100.6,168.7) rotate(-90)" font-size="15.5">-</text>
<text transform="translate(100.6,158.6) rotate(-90)" font-size="15.5" letter-spacing="0.6">ρ<tspan font-size="12.5" dy="3.5">0</tspan></text>
<text transform="translate(100.6,136.9) rotate(-90)" font-size="15.5" letter-spacing="0.25">(μΩ cm)</text>
</svg>
</div>
</body></html>
